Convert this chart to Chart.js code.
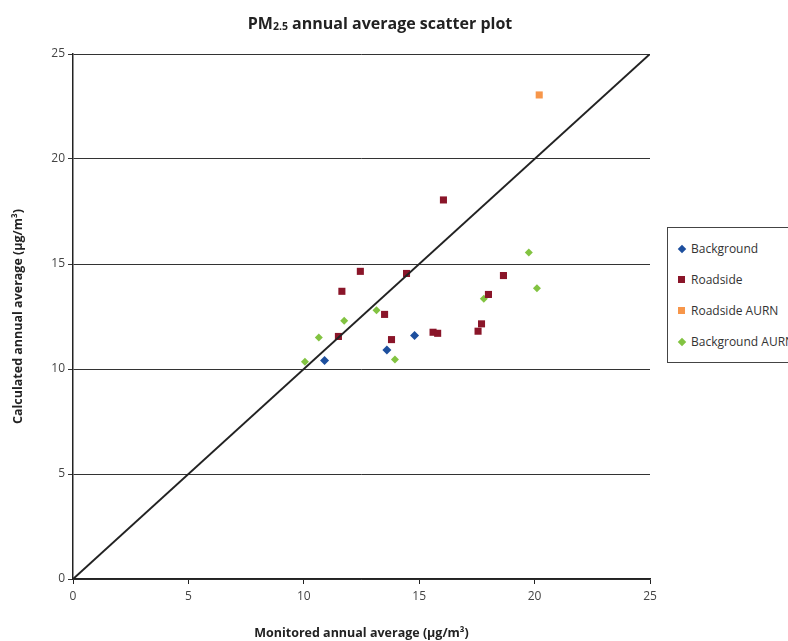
<!DOCTYPE html>
<html>
<head>
<meta charset="utf-8">
<script src="https://cdn.jsdelivr.net/npm/chart.js@4/dist/chart.umd.min.js"></script>
<style>
  html, body { margin: 0; padding: 0; background: #fff; overflow: hidden; }
  #wrap { position: relative; width: 788px; height: 641px; overflow: hidden; font-family: "Open Sans", sans-serif; }
  canvas { position: absolute; left: 0; top: 0; }
  #title { position: absolute; left: 0; width: 760px; top: 12px; text-align: center; font-weight: bold; font-size: 16px; color: #222; }
  #title sub { font-size: 10.5px; vertical-align: -1px; }
  #legend { position: absolute; left: 667px; top: 227px; width: 150px; height: 136px; border: 1px solid #444; background: #fff; box-sizing: border-box; }
  .item { position: absolute; left: 10px; font-size: 12px; color: #333; white-space: nowrap; line-height: 14px; }
  .mk { display: inline-block; position: absolute; left: 0; top: 3px; width: 7px; height: 7px; }
  .mk.dia { transform: rotate(45deg); width: 6px; height: 6px; left: 1px; top: 4px; }
  .txt { margin-left: 13px; }
</style>
</head>
<body>
<div id="wrap">
  <canvas id="c" width="788" height="641"></canvas>
  <div id="title">PM<sub>2.5</sub> annual average scatter plot</div>
  <div id="legend"></div>
</div>
<script>
// ---- data ----
const seriesNames = ["Background", "Roadside", "Roadside AURN", "Background AURN"];

const backgroundX = [10.9, 13.6, 14.8];
const backgroundY = [10.4, 10.9, 11.6];

const roadsideX = [12.45, 11.65, 14.45, 13.5, 11.5, 13.8, 15.6, 15.8, 16.05, 18.65, 18.0, 17.7, 17.55];
const roadsideY = [14.65, 13.7, 14.55, 12.6, 11.55, 11.4, 11.75, 11.7, 18.05, 14.45, 13.55, 12.15, 11.8];

const roadsideAurnX = [20.2];
const roadsideAurnY = [23.05];

const backgroundAurnX = [10.05, 10.65, 11.75, 13.15, 13.95, 17.8, 19.75, 20.1];
const backgroundAurnY = [10.35, 11.5, 12.3, 12.8, 10.45, 13.35, 15.55, 13.85];

const lineX = [0, 25];
const lineY = [0, 25];

const axisTicks = [0, 5, 10, 15, 20, 25];
const xTitle = "Monitored annual average (µg/m³)";
const yTitle = "Calculated annual average (µg/m³)";

// ---- styles ----
const colors = ["#1d4f9e", "#8a1529", "#f7964a", "#82c341"];
const styles = ["rectRot", "rect", "rect", "rectRot"];
const radii = [4.5, 5, 5, 4];

const toPts = (xs, ys) => xs.map((x, i) => ({ x: x, y: ys[i] }));
const seriesData = [
  toPts(backgroundX, backgroundY),
  toPts(roadsideX, roadsideY),
  toPts(roadsideAurnX, roadsideAurnY),
  toPts(backgroundAurnX, backgroundAurnY)
];

const datasets = seriesNames.map((n, i) => ({
  type: "scatter",
  label: n,
  data: seriesData[i],
  pointStyle: styles[i],
  pointRadius: radii[i],
  pointHoverRadius: radii[i],
  backgroundColor: colors[i],
  borderColor: colors[i],
  borderWidth: 0,
  order: 2
}));
datasets.push({
  type: "line",
  label: "1:1",
  data: toPts(lineX, lineY),
  borderColor: "#222",
  borderWidth: 2,
  pointRadius: 0,
  fill: false,
  order: 1
});

const tickFont = { family: "Open Sans", size: 12 };
const titleFont = { family: "Open Sans", size: 12.5, weight: "bold" };

new Chart(document.getElementById("c"), {
  data: { datasets: datasets },
  options: {
    responsive: false,
    animation: false,
    devicePixelRatio: 1,
    layout: { padding: { top: 54, right: 138, bottom: 0, left: 0 } },
    plugins: { legend: { display: false }, title: { display: false }, tooltip: { enabled: false } },
    scales: {
      x: {
        type: "linear",
        min: 0, max: 25,
        afterBuildTicks: s => { s.ticks = axisTicks.map(v => ({ value: v })); },
        afterFit: s => { s.height = 62; },
        grid: { drawOnChartArea: false, drawTicks: true, tickLength: 5, color: "#222" },
        border: { color: "#222", width: 1.5 },
        ticks: { font: tickFont, color: "#444", padding: 5 },
        title: { display: true, text: xTitle, font: titleFont, color: "#222", padding: { top: 0, bottom: 0 } }
      },
      y: {
        type: "linear",
        min: 0, max: 25,
        afterBuildTicks: s => { s.ticks = axisTicks.map(v => ({ value: v })); },
        afterFit: s => { s.width = 73; },
        grid: { drawOnChartArea: true, drawTicks: true, tickLength: 5, color: "#333", lineWidth: 1 },
        border: { color: "#222", width: 1.5 },
        ticks: { font: tickFont, color: "#444", padding: 3 },
        title: { display: true, text: yTitle, font: titleFont, color: "#222", padding: { top: 11, bottom: 0 } }
      }
    }
  }
});

// HTML legend built from the series
const lg = document.getElementById("legend");
seriesNames.forEach((n, i) => {
  const d = document.createElement("div");
  d.className = "item";
  d.style.top = (14 + i * 31) + "px";
  const m = document.createElement("span");
  m.className = "mk" + (styles[i] === "rectRot" ? " dia" : "");
  m.style.background = colors[i];
  const t = document.createElement("span");
  t.className = "txt";
  t.textContent = n;
  d.appendChild(m); d.appendChild(t);
  lg.appendChild(d);
});
</script>
</body>
</html>
